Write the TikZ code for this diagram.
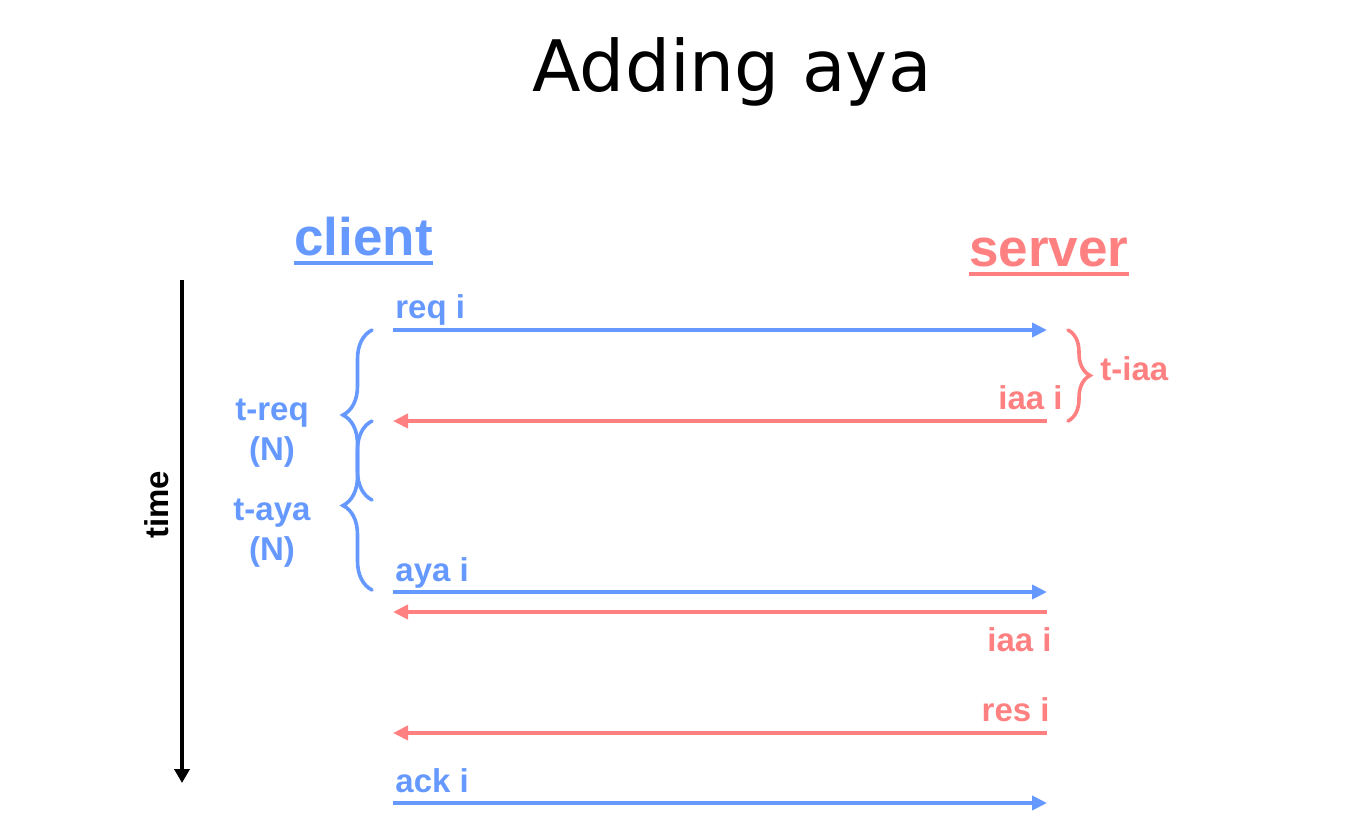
\documentclass[tikz,border=0pt]{standalone}
\usepackage{fontspec}
\setmainfont{Liberation Sans}
\newfontfamily\titlefont{DejaVu Sans}
\usepackage{tikz}
\usetikzlibrary{arrows.meta, decorations.pathreplacing, calc}
\definecolor{clientblue}{RGB}{102,153,255}
\definecolor{serverred}{RGB}{255,128,128}

\begin{document}
\begin{tikzpicture}[x=0.5pt, y=-0.5pt,
    msg/.style={inner sep=0pt, font=\fontsize{16.5}{20}\selectfont\bfseries},
    role/.style={inner sep=0pt, font=\fontsize{26.5}{30}\selectfont\bfseries},
    toserver/.style={draw=clientblue, line width=2pt, -{Triangle[length=7.5pt,width=7pt]}},
    toclient/.style={draw=serverred, line width=2pt, -{Triangle[length=7.5pt,width=7pt]}},
    timebrace/.style={decorate, decoration={brace, amplitude=#1}, line width=1.8pt, line cap=round}]
    \useasboundingbox (0,0) rectangle (1370,820);

    \node[inner sep=0pt, anchor=base, font=\titlefont\fontsize{35.5}{40}\selectfont] (title) at (732,91) {Adding aya};

    % the two sides
    \node[role, anchor=base west, text=clientblue] (client) at (294,255) {client};
    \node[role, anchor=base west, text=serverred] (server) at (969,266) {server};
    \draw[clientblue, line width=2pt] ([yshift=-3.75pt]client.base west) -- ([yshift=-3.75pt]client.base east);
    \draw[serverred, line width=2pt] ([yshift=-4pt]server.base west) -- ([yshift=-4pt]server.base east);

    % time axis
    \coordinate (tstart) at (182,280);
    \coordinate (tend) at (182,783);
    \draw[line width=2pt, -{Triangle[length=7pt,width=7.5pt]}] (tstart) -- (tend);
    \node[msg, rotate=90] (time) at (157,505) {time};

    % messages
    \coordinate (creq) at (393,330);
    \coordinate (sreq) at (1047,330);
    \coordinate (ciaa) at (393,421);
    \coordinate (siaa) at (1047,421);
    \coordinate (caya) at (393,592);
    \coordinate (saya) at (1047,592);
    \coordinate (ciaatwo) at (393,612);
    \coordinate (siaatwo) at (1047,612);
    \coordinate (cres) at (393,733);
    \coordinate (sres) at (1047,733);
    \coordinate (cack) at (393,803);
    \coordinate (sack) at (1047,803);

    \draw[toserver] (creq) -- (sreq);
    \draw[toclient] (siaa) -- (ciaa);
    \draw[toserver] (caya) -- (saya);
    \draw[toclient] (siaatwo) -- (ciaatwo);
    \draw[toclient] (sres) -- (cres);
    \draw[toserver] (cack) -- (sack);

    \node[msg, anchor=base west, text=clientblue] (lreq) at (395,318) {req i};
    \node[msg, anchor=base east, text=serverred] (liaa) at (1063,409) {iaa i};
    \node[msg, anchor=base west, text=clientblue] (laya) at (395,581) {aya i};
    \node[msg, anchor=base east, text=serverred] (liaatwo) at (1052,651) {iaa i};
    \node[msg, anchor=base east, text=serverred] (lres) at (1050,721) {res i};
    \node[msg, anchor=base west, text=clientblue] (lack) at (395,792) {ack i};

    % timeouts
    \coordinate (treqtop) at (372,330);
    \coordinate (treqbot) at (372,500);
    \coordinate (tayatop) at (372,421);
    \coordinate (tayabot) at (372,590);
    \coordinate (tiaatop) at (1068,330);
    \coordinate (tiaabot) at (1068,421);

    \draw[timebrace=14.5pt, clientblue] (treqbot) -- (treqtop);
    \draw[timebrace=14.5pt, clientblue] (tayabot) -- (tayatop);
    \draw[timebrace=11pt, serverred] (tiaatop) -- (tiaabot);

    \node[msg, align=center, text=clientblue] (treq) at (272,433) {t-req\\(N)};
    \node[msg, align=center, text=clientblue] (taya) at (272,533) {t-aya\\(N)};
    \node[msg, anchor=west, text=serverred] (tiaa) at (1100,369) {t-iaa};
\end{tikzpicture}
\end{document}
